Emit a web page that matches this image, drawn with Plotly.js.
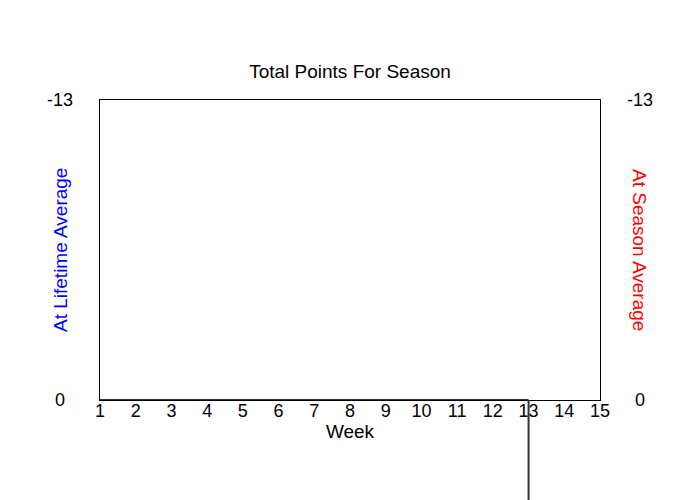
<!DOCTYPE html>
<html>
<head>
<meta charset="utf-8">
<script src="https://cdn.plot.ly/plotly-3.0.1.min.js"></script>
<style>
  html, body { margin: 0; padding: 0; background: #fff; }
  #myDiv { width: 700px; height: 500px; }
</style>
</head>
<body>
<div id="myDiv"></div>
<script>
let weeks = [1, 2, 3, 4, 5, 6, 7, 8, 9, 10, 11, 12, 13];
let points = [0, 0, 0, 0, 0, 0, 0, 0, 0, 0, 0, 0, 0];
let xTicks = [1, 2, 3, 4, 5, 6, 7, 8, 9, 10, 11, 12, 13, 14, 15];
let yTicks = [-13, 0];

let font = 'Arial, "Liberation Sans", sans-serif';

let trace1 = {
  x: weeks,
  y: points,
  type: 'scatter',
  mode: 'lines',
  line: {color: '#333333', width: 2},
  hoverinfo: 'none'
};

// y tick labels, centred on both sides
let tickNotes = [];
yTicks.forEach(function (v) {
  tickNotes.push({x: -0.08, xref: 'paper', y: v, yref: 'y', text: String(v),
    showarrow: false, xanchor: 'center', yanchor: 'middle',
    font: {family: font, size: 18, color: '#000'}});
  tickNotes.push({x: 1.08, xref: 'paper', y: v, yref: 'y', text: String(v),
    showarrow: false, xanchor: 'center', yanchor: 'middle',
    font: {family: font, size: 18, color: '#000'}});
});

let layout = {
  width: 700,
  height: 500,
  margin: {l: 100, r: 100, t: 100, b: 100},
  paper_bgcolor: '#fff',
  plot_bgcolor: '#fff',
  showlegend: false,
  font: {family: font, size: 18, color: '#000'},
  title: {
    text: 'Total Points For Season',
    x: 0.5,
    y: 0.858,
    xanchor: 'center',
    yanchor: 'middle',
    font: {family: font, size: 19, color: '#000'}
  },
  xaxis: {
    range: [1, 15],
    tickvals: xTicks,
    ticks: '',
    showgrid: false,
    zeroline: false,
    showline: true,
    linecolor: '#000',
    linewidth: 1,
    mirror: true,
    ticklabelstandoff: -6,
    tickfont: {family: font, size: 18, color: '#000'},
    title: {
      text: 'Week',
      standoff: 0,
      font: {family: font, size: 19, color: '#000'}
    }
  },
  yaxis: {
    range: [0, -13],
    tickvals: yTicks,
    showticklabels: false,
    ticks: '',
    showgrid: false,
    zeroline: false,
    showline: true,
    linecolor: '#000',
    linewidth: 1,
    mirror: true
  },
  annotations: tickNotes.concat([
    {x: -0.08, xref: 'paper', y: 0.5, yref: 'paper', text: 'At Lifetime Average',
      textangle: -90, showarrow: false, xanchor: 'center', yanchor: 'middle',
      font: {family: font, size: 19, color: '#0000ff'}},
    {x: 1.08, xref: 'paper', y: 0.5, yref: 'paper', text: 'At Season Average',
      textangle: 90, showarrow: false, xanchor: 'center', yanchor: 'middle',
      font: {family: font, size: 19, color: '#ff0000'}}
  ]),
  shapes: [
    // last week's value drops far below the axis range
    {type: 'line', xref: 'x', yref: 'paper',
      x0: weeks[weeks.length - 1], x1: weeks[weeks.length - 1],
      y0: 0, y1: -0.4,
      line: {color: '#333333', width: 2}}
  ]
};

let data = [trace1];
Plotly.newPlot('myDiv', data, layout, {displayModeBar: false, staticPlot: true});
</script>
</body>
</html>
